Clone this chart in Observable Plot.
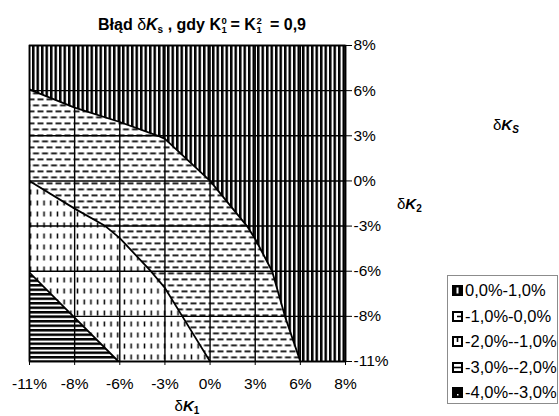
<!DOCTYPE html>
<html><head><meta charset="utf-8">
<script src="https://cdn.jsdelivr.net/npm/d3@7"></script>
<script src="https://cdn.jsdelivr.net/npm/@observablehq/plot@0.6"></script>
<style>
html,body{margin:0;padding:0;background:#fff;}
#wrap{position:relative;width:559px;height:416px;overflow:hidden;font-family:"Liberation Sans",Arial,sans-serif;color:#000;}
#chart{position:absolute;left:0;top:0;}
#chart svg text{font-size:15.5px !important;font-family:"Liberation Sans",Arial,sans-serif !important;}
.lbl{position:absolute;white-space:nowrap;line-height:1;font-size:15px;}
.title{font-weight:bold;font-size:16px;}
.d{font-weight:normal;font-style:normal;}
.K{font-weight:bold;font-style:italic;}
.s{font-size:10px;position:relative;top:3px;font-weight:bold;}
.ss{display:inline-block;position:relative;width:0.6em;height:0;}
.ss span{position:absolute;left:0.5px;font-size:9.5px;line-height:7px;font-weight:bold;}
.ss .sp{top:-12.5px;} .ss .sb{top:-3.5px;}
#legend{position:absolute;left:447px;top:275px;width:111px;height:129px;border:1px solid #8c8c8c;box-sizing:border-box;padding-top:2px;}
.row{height:25.5px;display:flex;align-items:center;font-size:16.5px;white-space:nowrap;}
.row svg{margin-left:4px;margin-right:2px;flex:none;}
</style></head>
<body>
<div id="wrap">
  <div id="chart"></div>
  <div class="lbl title" style="left:202px;top:16.5px;transform:translateX(-50%);">Błąd <span class="d">δ</span><span class="K">K</span><span class="s">s</span> , gdy K<span class="ss"><span class="sp">0</span><span class="sb">1</span></span>= K<span class="ss"><span class="sp">2</span><span class="sb">1</span></span> = 0,9</div>
  <div class="lbl" style="left:493px;top:117px;">δ<span class="K">K</span><span class="s K">S</span></div>
  <div class="lbl" style="left:397px;top:196px;">δ<span class="K">K</span><span class="s">2</span></div>
  <div class="lbl" style="left:187px;top:398px;transform:translateX(-50%);">δ<span class="K">K</span><span class="s">1</span></div>
  <div id="legend"></div>
</div>
<script>
// δK1 (x) categories, δK2 (y) categories, bottom to top
const k1Labels = ["-11%", "-8%", "-6%", "-3%", "0%", "3%", "6%", "8%"];
const k2Labels = ["-11%", "-8%", "-6%", "-3%", "0%", "3%", "6%", "8%"];

// δKs values (%); rows δK2 = -11% ... 8%, columns δK1 = -11% ... 8%
const ksRowM11 = [-2.83, -2.33, -1.99, -1.50, -1.00, -0.50, 0.00, 0.33];
const ksRowM8  = [-2.33, -1.99, -1.60, -1.17, -0.73, -0.29, 0.15, 0.44];
const ksRowM6  = [-1.99, -1.60, -1.22, -0.90, -0.55, -0.15, 0.25, 0.51];
const ksRowM3  = [-1.50, -1.17, -0.92, -0.61, -0.27, 0.06, 0.40, 0.62];
const ksRow0   = [-1.00, -0.73, -0.55, -0.27, 0.00, 0.27, 0.55, 0.73];
const ksRow3   = [-0.50, -0.25, -0.11, 0.02, 0.27, 0.48, 0.69, 0.83];
const ksRow6   = [-0.01, 0.15, 0.25, 0.40, 0.55, 0.69, 0.84, 0.94];
const ksRow8   = [0.33, 0.44, 0.51, 0.62, 0.73, 0.83, 0.94, 0.99];

// contour bands (lower thresholds) and legend labels, top entry first
const bandThresholds = [-3, -2, -1, 0];
const bandPatterns = ["pat3", "pat2", "pat1", "pat0"];
const legendLabels = ["0,0%-1,0%", "-1,0%-0,0%", "-2,0%--1,0%", "-3,0%--2,0%", "-4,0%--3,0%"];

const grid = [ksRowM11, ksRowM8, ksRowM6, ksRowM3, ksRow0, ksRow3, ksRow6, ksRow8].flat();
const n = k1Labels.length;

const chart = Plot.plot({
  width: 559, height: 416,
  marginLeft: 29, marginRight: 214, marginTop: 45, marginBottom: 55,
  style: {fontFamily: "'Liberation Sans', Arial, sans-serif", fontSize: "15.5px", color: "black", background: "white", overflow: "visible"},
  x: {domain: [0, n - 1]},
  y: {domain: [0, n - 1]},
  marks: [
    ...bandThresholds.map((t, k) => Plot.contour(grid, {
      width: n, height: n, x1: -0.5, x2: n - 0.5, y1: -0.5, y2: n - 0.5,
      value: d => d, thresholds: [t],
      fill: `url(#${bandPatterns[k]})`,
      stroke: k === 0 ? "none" : "black", strokeWidth: 1.8,
      clip: true
    })),
    Plot.gridX({ticks: d3.range(n), stroke: "black", strokeOpacity: 1, strokeWidth: 1.4}),
    Plot.gridY({ticks: d3.range(n), stroke: "black", strokeOpacity: 1, strokeWidth: 1.4}),
    Plot.frame({stroke: "black", strokeWidth: 1.6}),
    Plot.axisX({ticks: d3.range(n), tickFormat: i => k1Labels[i], tickSize: 4, tickPadding: 12, label: null, fontSize: 15.5}),
    Plot.axisY({anchor: "right", ticks: d3.range(n), tickFormat: i => k2Labels[i], tickSize: 6, tickPadding: 2, label: null, fontSize: 15.5})
  ]
});

d3.select(chart).insert("defs", ":first-child").html(`
<pattern id="pat0" patternUnits="userSpaceOnUse" width="4.5" height="10"><rect width="4.5" height="10" fill="white"/><rect width="2.5" height="10" fill="black"/></pattern>
<pattern id="pat1" patternUnits="userSpaceOnUse" width="9" height="12"><rect width="9" height="12" fill="white"/><rect x="1" y="2" width="6" height="1.7" fill="black"/><rect x="5.5" y="8" width="3.5" height="1.7" fill="black"/><rect x="0" y="8" width="2.5" height="1.7" fill="black"/></pattern>
<pattern id="pat2" patternUnits="userSpaceOnUse" width="6.7" height="11"><rect width="6.7" height="11" fill="white"/><rect x="2.6" y="2" width="1.5" height="5" fill="black"/></pattern>
<pattern id="pat3" patternUnits="userSpaceOnUse" width="10" height="4.5"><rect width="10" height="4.5" fill="white"/><rect width="10" height="2.5" fill="black"/></pattern>`);

document.getElementById("chart").appendChild(chart);

// legend swatches
const swatches = [
  `<rect x="0.5" y="0.5" width="10" height="10" fill="black" stroke="black"/><rect x="4.5" y="2.5" width="2" height="6" fill="white"/>`,
  `<rect x="1" y="1" width="9" height="9" fill="white" stroke="black" stroke-width="2"/><line x1="5" y1="5.5" x2="10" y2="5.5" stroke="black" stroke-width="1.6"/>`,
  `<rect x="1" y="1" width="9" height="9" fill="white" stroke="black" stroke-width="2"/><line x1="5.5" y1="1" x2="5.5" y2="6" stroke="black" stroke-width="1.6"/>`,
  `<rect x="1" y="1" width="9" height="9" fill="white" stroke="black" stroke-width="2"/><line x1="1" y1="5.5" x2="10" y2="5.5" stroke="black" stroke-width="1.6"/>`,
  `<rect x="0.5" y="0.5" width="10" height="10" fill="black" stroke="black"/><rect x="5" y="7" width="1.5" height="1.5" fill="white"/>`
];
const rows = d3.select("#legend").selectAll("div").data(legendLabels).join("div").attr("class", "row");
rows.append("svg").attr("width", 11).attr("height", 11).html((d, i) => swatches[i]);
rows.append("span").text(d => d);
</script>
</body></html>
